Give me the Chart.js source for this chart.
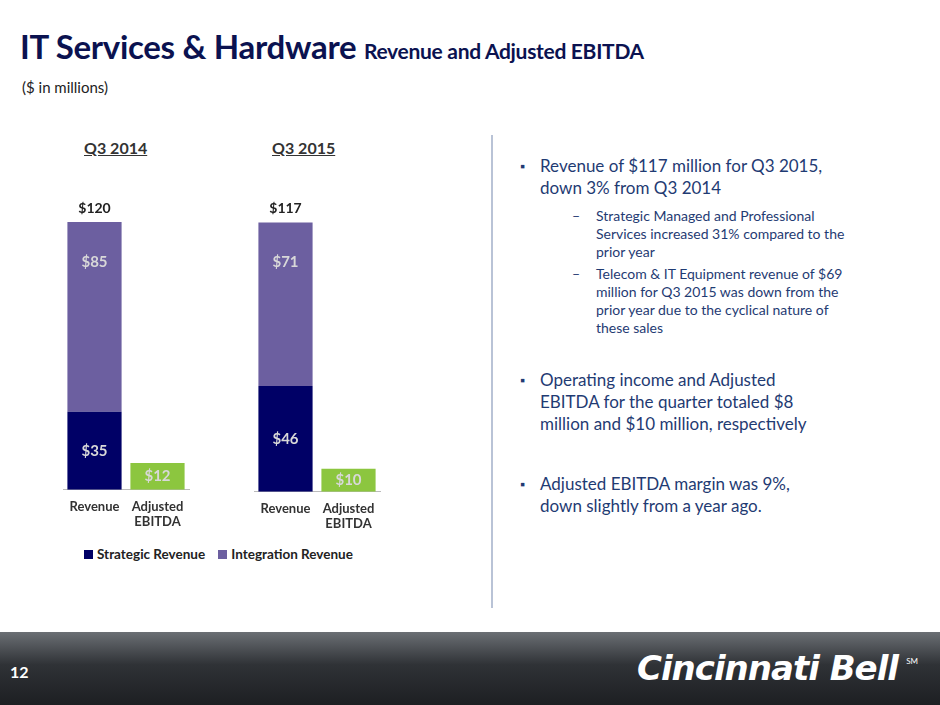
<!DOCTYPE html>
<html>
<head>
<meta charset="utf-8">
<script src="https://cdn.jsdelivr.net/npm/chart.js@4/dist/chart.umd.min.js"></script>
<style>
  body { margin:0; width:940px; height:705px; position:relative; overflow:hidden; background:#fff; font-family:Lato, "Open Sans", sans-serif; }
  .abs { position:absolute; }
  #title { left:20px; top:26px; font-size:33px; font-weight:bold; color:#0b1250; white-space:nowrap; letter-spacing:-0.3px; }
  #title span { font-size:21px; }
  #sub { left:22px; top:78px; font-size:15px; color:#222; }
  .q { font-size:16px; font-weight:bold; color:#333; text-decoration:underline; }
  #divider { left:491px; top:135px; width:2px; height:473px; background:#b9c3d6; }
  .bul { left:540px; font-size:17px; color:#1f3b73; line-height:22px; width:288px; }
  .bul:before { content:"\25AA"; position:absolute; left:-20px; font-size:13px; color:#1f3b73; }
  .dash { left:596px; font-size:14px; color:#1f3b73; line-height:18px; width:262px; }
  .dash:before { content:"\2013"; position:absolute; left:-24px; }
  #legend { left:84px; top:546px; font-size:13.5px; font-weight:bold; color:#222; }
  .sw { display:inline-block; width:9px; height:9px; margin-right:4px; }
  #footer { left:0; top:632px; width:940px; height:73px; background:linear-gradient(#6b6f74, #2f3236 45%, #1d1f22); }
  #pg { left:10px; top:662px; color:#fff; font-weight:bold; font-size:16px; }
  #logo { right:42px; top:648px; color:#fff; font-style:italic; font-weight:900; font-size:34px; font-family:"DejaVu Sans", sans-serif; letter-spacing:-1px; }
  #sm { right:22px; top:656px; color:#fff; font-size:8px; }
</style>
</head>
<body>
<div id="title" class="abs">IT Services &amp; Hardware <span>Revenue and Adjusted EBITDA</span></div>
<div id="sub" class="abs">($ in millions)</div>
<div class="abs q" style="left:84px;top:138px">Q3 2014</div>
<div class="abs q" style="left:272px;top:138px">Q3 2015</div>
<canvas id="c0" class="abs" style="left:59px;top:193px"></canvas>
<canvas id="c1" class="abs" style="left:250px;top:195px"></canvas>
<div id="legend" class="abs"><span class="sw" style="background:#000066"></span>Strategic Revenue &nbsp;&nbsp;&nbsp;<span class="sw" style="background:#6c5fa0"></span>Integration Revenue</div>
<div id="divider" class="abs"></div>
<div class="abs bul" style="top:155px">Revenue of $117 million for Q3 2015, down 3% from Q3 2014</div>
<div class="abs dash" style="top:207px">Strategic Managed and Professional Services increased 31% compared to the prior year</div>
<div class="abs dash" style="top:265px">Telecom &amp; IT Equipment revenue of $69 million for Q3 2015 was down from the prior year due to the cyclical nature of these sales</div>
<div class="abs bul" style="top:369px">Operating income and Adjusted EBITDA for the quarter totaled $8 million and $10 million, respectively</div>
<div class="abs bul" style="top:473px">Adjusted EBITDA margin was 9%, down slightly from a year ago.</div>
<div id="footer" class="abs"></div>
<div id="pg" class="abs">12</div>
<div id="logo" class="abs">Cincinnati Bell</div>
<div id="sm" class="abs">SM</div>
<script>
const quarters = ["Q3 2014", "Q3 2015"];
const categories = ["Revenue", ["Adjusted", "EBITDA"]];
const strategic = [35, 46];
const integration = [85, 71];
const ebitda = [12, 10];
const totals = [120, 117];
const axisMax = [133, 129];

const valueLabels = {
  id: "valueLabels",
  afterDatasetsDraw(chart) {
    const ctx = chart.ctx;
    ctx.save();
    ctx.textAlign = "center";
    ctx.textBaseline = "middle";
    ctx.font = "bold 15px Lato, sans-serif";
    chart.data.datasets.forEach((ds, i) => {
      chart.getDatasetMeta(i).data.forEach((bar, j) => {
        const v = ds.data[j];
        if (v == null) return;
        ctx.fillStyle = "#d8d8d8";
        // integration label sits near the top of its segment
        const y = i === 1 ? bar.y + 40 : (bar.y + bar.base) / 2;
        ctx.fillText("$" + v, bar.x, y);
      });
    });
    const q = chart.options.plugins.valueLabels.q;
    const top = chart.getDatasetMeta(1).data[0];
    ctx.fillStyle = "#222";
    ctx.font = "bold 14px Lato, sans-serif";
    ctx.fillText("$" + totals[q], top.x, chart.scales.y.getPixelForValue(totals[q]) - 14);
    ctx.restore();
  }
};

quarters.forEach((q, k) => {
  const cv = document.getElementById("c" + k);
  cv.width = 134; cv.height = 340;
  cv.style.width = "134px"; cv.style.height = "340px";
  new Chart(cv, {
    type: "bar",
    data: {
      labels: categories,
      datasets: [
        { label: "Strategic Revenue", data: [strategic[k], null], backgroundColor: "#000066" },
        { label: "Integration Revenue", data: [integration[k], null], backgroundColor: "#6c5fa0" },
        { label: "Adjusted EBITDA", data: [null, ebitda[k]], backgroundColor: "#8cc63f" }
      ]
    },
    options: {
      responsive: false,
      animation: false,
      datasets: { bar: { barPercentage: 0.86, categoryPercentage: 1, skipNull: true } },
      layout: { padding: { top: 0, left: 4, right: 4 } },
      plugins: { legend: { display: false }, tooltip: { enabled: false }, valueLabels: { q: k } },
      scales: {
        x: {
          stacked: true,
          grid: { display: false, drawTicks: true, tickLength: 6 },
          border: { color: "#bbb" },
          ticks: { color: "#333", font: { size: 13, weight: "bold", family: "Lato" }, maxRotation: 0, autoSkip: false }
        },
        y: { stacked: true, display: false, min: 0, max: axisMax[k] }
      }
    },
    plugins: [valueLabels]
  });
});
</script>
</body>
</html>
